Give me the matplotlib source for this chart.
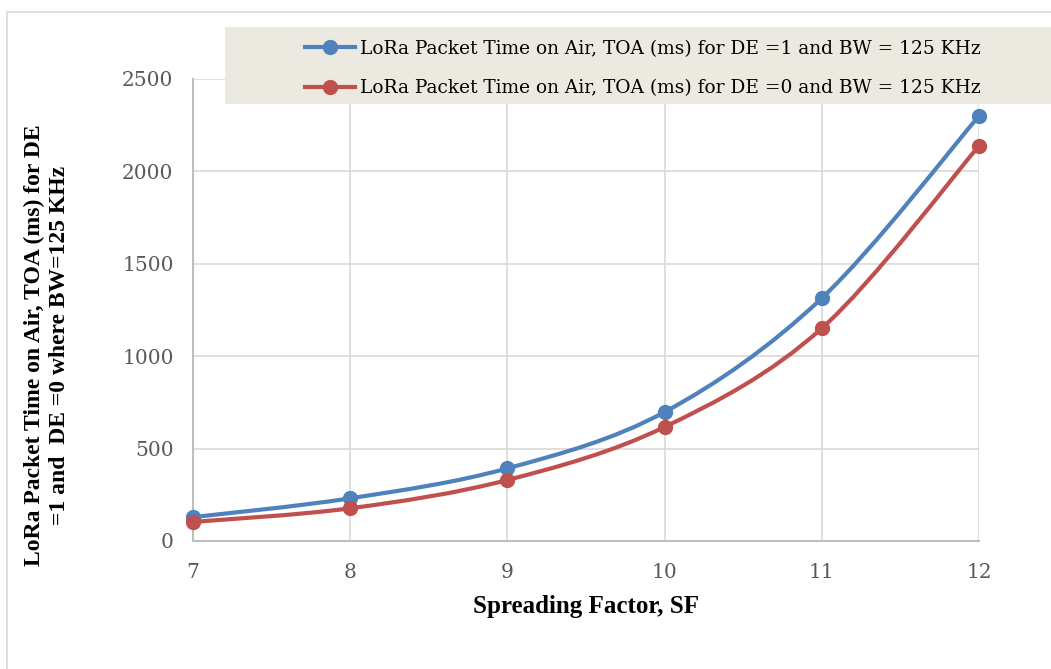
import matplotlib
matplotlib.use("Agg")
import matplotlib.pyplot as plt
from matplotlib.path import Path
from matplotlib.patches import PathPatch, Rectangle
from matplotlib.lines import Line2D

sf = [7, 8, 9, 10, 11, 12]
toa_de1 = [129, 231, 393, 698, 1314, 2300]
toa_de0 = [103, 177, 330, 617, 1151, 2138]
labels = [
    "LoRa Packet Time on Air, TOA (ms) for DE =1 and BW = 125 KHz",
    "LoRa Packet Time on Air, TOA (ms) for DE =0 and BW = 125 KHz",
]
colors = ["#4F81BD", "#C0504D"]
yticks = [0, 500, 1000, 1500, 2000, 2500]

SERIF = "DejaVu Serif"
BOLD = "Liberation Serif"


def smooth_path(x, y):
    # Excel-style smoothed line: cubic bezier through points, tension 1/6
    n = len(x)
    verts = [(x[0], y[0])]
    codes = [Path.MOVETO]
    for i in range(n - 1):
        x0, y0 = (x[i - 1], y[i - 1]) if i > 0 else (x[i], y[i])
        x3, y3 = (x[i + 2], y[i + 2]) if i + 2 < n else (x[i + 1], y[i + 1])
        c1 = (x[i] + (x[i + 1] - x0) / 6, y[i] + (y[i + 1] - y0) / 6)
        c2 = (x[i + 1] - (x3 - x[i]) / 6, y[i + 1] - (y3 - y[i]) / 6)
        verts += [c1, c2, (x[i + 1], y[i + 1])]
        codes += [Path.CURVE4] * 3
    return Path(verts, codes)


fig = plt.figure(figsize=(10.51, 6.69), dpi=100)
fig.patches.append(Rectangle((7 / 1051, -0.1), 1.2, 1.1 - 12 / 669,
                             transform=fig.transFigure, fill=False,
                             edgecolor="#D9D9D9", lw=1.2))

ax = fig.add_axes([193 / 1051, 1 - 541 / 669, (979 - 193) / 1051, (541 - 79) / 669])
ax.set_xlim(7, 12)
ax.set_ylim(0, 2500)
ax.set_xticks(sf)
ax.set_yticks(yticks)
ax.grid(True, color="#D9D9D9", lw=1.2)
ax.set_axisbelow(True)
for s in ["top", "right"]:
    ax.spines[s].set_visible(False)
for s in ["left", "bottom"]:
    ax.spines[s].set_color("#BFBFBF")
    ax.spines[s].set_linewidth(1.5)
ax.tick_params(length=0, labelsize=14.5, labelcolor="#595959")
ax.tick_params(axis="x", pad=16)
ax.tick_params(axis="y", pad=14)
for t in ax.get_xticklabels() + ax.get_yticklabels():
    t.set_family(SERIF)

for yv, c in zip([toa_de1, toa_de0], colors):
    ax.add_patch(PathPatch(smooth_path(sf, yv), fill=False, edgecolor=c, lw=3, zorder=3,
                           clip_on=False))
    ax.plot(sf, yv, "o", color=c, ms=10, zorder=4, clip_on=False)

ax.set_xlabel("Spreading Factor, SF", family=BOLD, weight="bold", fontsize=18, labelpad=9)
fig.text(47 / 1051, 1 - 345 / 669,
         "LoRa Packet Time on Air, TOA (ms) for DE\n=1 and  DE =0 where BW=125 KHz",
         rotation=90, ha="center", va="center", multialignment="center",
         family=BOLD, weight="bold", fontsize=17, linespacing=1.25)

fig.patches.append(Rectangle((225 / 1051, 1 - 104 / 669), 1.0, 77 / 669,
                             transform=fig.transFigure, facecolor="#ECEAE0",
                             edgecolor="none", zorder=5))
handles = [Line2D([], [], color=c, lw=3, marker="o", ms=10) for c in colors]
leg = fig.legend(handles, labels, loc="center", bbox_to_anchor=(643 / 1051, 1 - 68.5 / 669),
                 frameon=False, prop={"family": SERIF, "size": 13.4},
                 handlelength=2.7, handletextpad=0.25, labelspacing=1.15)
leg.set_zorder(6)

fig.savefig("out.png", dpi=100)
